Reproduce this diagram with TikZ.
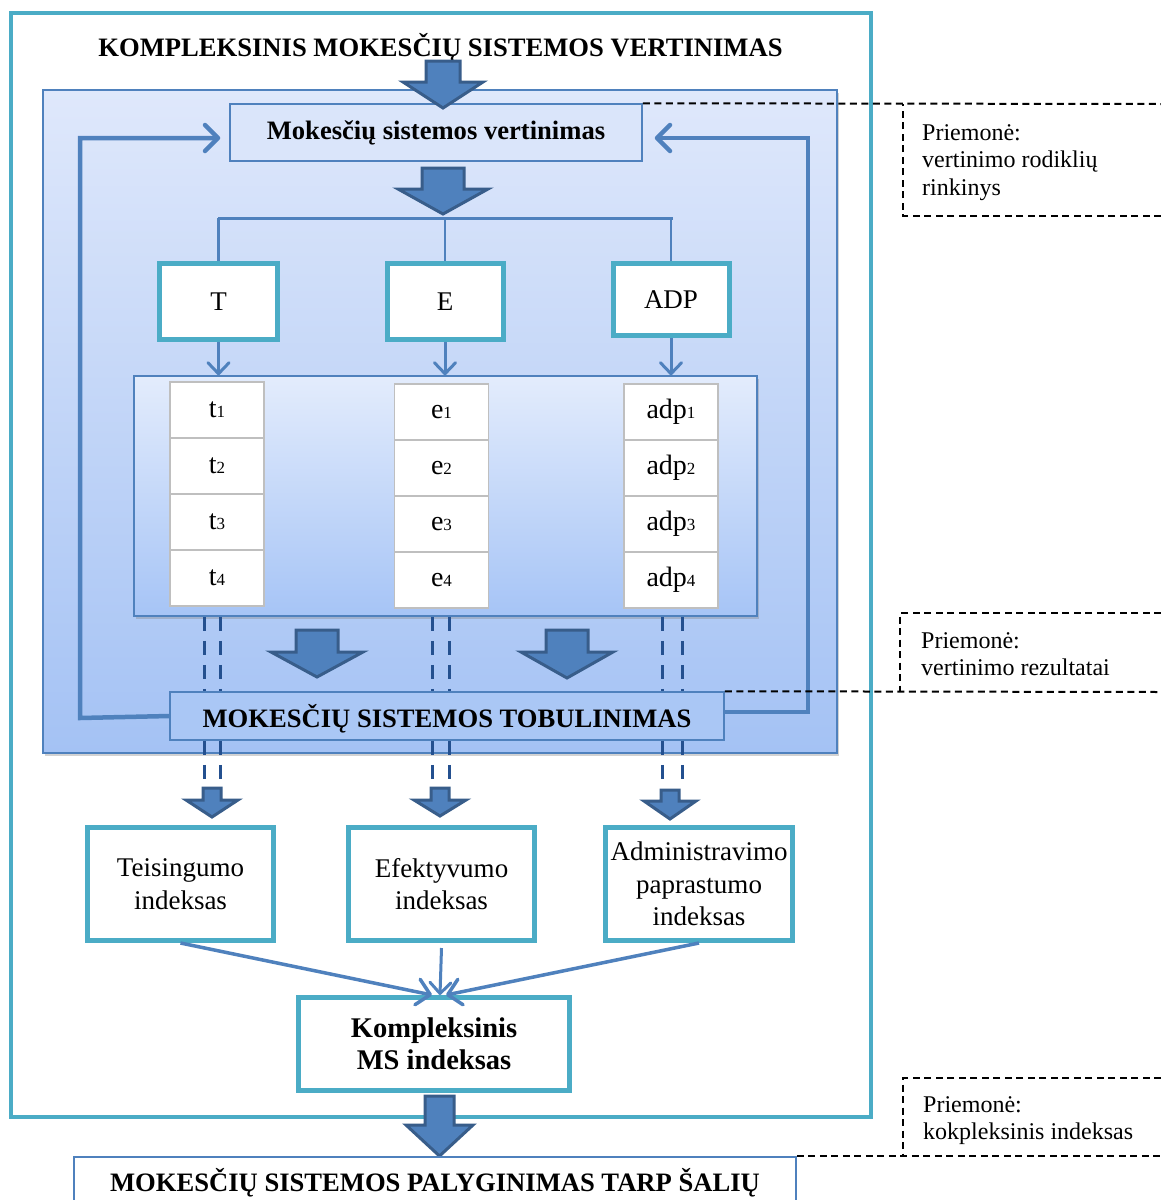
\documentclass[tikz,border=0pt]{standalone}
\usepackage{fontspec}
\setmainfont{Liberation Serif}
\usetikzlibrary{arrows.meta,shadows}
\definecolor{cTeal}{HTML}{4BACC6}
\definecolor{cBlue}{HTML}{4F81BD}
\definecolor{cDark}{HTML}{385D8A}
\definecolor{cDash}{HTML}{24508F}
\definecolor{cGray}{HTML}{BFBFBF}
\definecolor{cTop}{HTML}{DFE8FB}
\definecolor{cBot}{HTML}{A4C2F4}
\definecolor{cPTop}{HTML}{E3ECFC}
\definecolor{cPBot}{HTML}{A6C4F6}
\definecolor{cLight}{HTML}{DAE5FA}
\definecolor{cMst}{HTML}{AAC7F5}
\newcommand\mybold{\fontsize{26.6}{30}\selectfont\bfseries}
\newcommand\letfont{\fontsize{27}{30}\selectfont}
\newcommand\cellfont{\fontsize{28}{30}\selectfont}
\newcommand\idxfont{\fontsize{27}{32.5}\selectfont}
\newcommand\kfont{\fontsize{28.5}{32}\selectfont\bfseries}
\newcommand\calfont{\fontsize{24}{27.5}\selectfont}
\newcommand\smalldig[1]{{\fontsize{17}{17}\selectfont #1}}
\newcommand\blkarrow[6]{\draw[blk] ({#1-#5},#2) -- ({#1+#5},#2) -- ({#1+#5},#3) -- ({#1+#6},#3) -- (#1,#4) -- ({#1-#6},#3) -- ({#1-#5},#3) -- cycle;}
\begin{document}
\begin{tikzpicture}[x=1pt,y=-1pt,
  tealbox/.style={draw=cTeal, line width=5pt, fill=white, inner sep=0pt, align=center},
  cellbox/.style={draw=cGray, line width=1.8pt, fill=white, minimum width=94pt, minimum height=56pt, inner sep=0pt, font=\cellfont},
  blk/.style={fill=cBlue, draw=cDark, line width=3pt, line join=miter},
  thinarr/.style={draw=cBlue, line width=3pt, -{Straight Barb[length=11pt,width=21pt,round]}},
  midarr/.style={draw=cBlue, line width=3.5pt, -{Straight Barb[length=13pt,width=26pt,round]}},
  loopline/.style={draw=cBlue, line width=4.5pt, line join=miter, -{Straight Barb[length=13pt,width=26pt,round]}},
  ddash/.style={draw=cDash, line width=3pt, dash pattern=on 14pt off 10pt},
  callout/.style={draw=black, line width=2pt, dash pattern=on 7pt off 4.5pt},
  calltext/.style={anchor=north west, align=left, inner sep=0pt, font=\calfont},
  plainbox/.style={draw=cBlue, line width=1.5pt, inner sep=0pt},
  shd/.style={drop shadow={shadow xshift=2pt, shadow yshift=-3pt, opacity=.35}}
]
\useasboundingbox (0,0) rectangle (1161,1200);
\clip (0,0) rectangle (1161,1200);
\fill[white] (0,0) rectangle (1161,1200);

% outer frame
\draw[cTeal, line width=4pt] (11,13) rectangle (871,1117);
\node[font=\mybold, anchor=base, inner sep=0pt] (title) at (440.5,56) {KOMPLEKSINIS MOKESČIŲ SISTEMOS VERTINIMAS};

% main shaded box
\node[plainbox, shd, top color=cTop, bottom color=cBot, minimum width=794pt, minimum height=663pt] (mainbox) at (440,421.5) {};

% feedback loops
\node[plainbox, fill=cLight, minimum width=412pt, minimum height=57pt, font=\mybold] (mv) at (436,132.5) {Mokesčių sistemos vertinimas};
\node[plainbox, minimum width=554pt, minimum height=48pt] (mst) at (447,716) {};
\draw[loopline, shorten >=9pt] (mst.west) -- (80,718) -- (80,138) -- ([yshift=-5.5pt]mv.west);
\draw[loopline, shorten >=12pt] ([yshift=4pt]mst.east) -- (808,712) -- (808,138) -- ([yshift=-5.5pt]mv.east);

\blkarrow{443}{61}{82}{108}{17}{40}
\blkarrow{443}{168}{189}{214}{21}{45}

% bar and T / E / ADP
\coordinate (barL) at (218,218);
\coordinate (barR) at (673,218);
\draw[cBlue, line width=3pt] (barL) -- (barR);
\node[tealbox, minimum width=118pt, minimum height=76pt, font=\letfont] (T) at (218.5,301.5) {T};
\node[tealbox, minimum width=116pt, minimum height=76pt, font=\letfont] (E) at (445,301.5) {E};
\node[tealbox, minimum width=116pt, minimum height=72pt, font=\letfont] (ADP) at (671,299.5) {ADP};
\draw[cBlue, line width=2.2pt] (T.north) -- (T.north |- barL);
\draw[cBlue, line width=2.2pt] (E.north) -- (E.north |- barL);
\draw[cBlue, line width=2.2pt] (ADP.north) -- (ADP.north |- barL);

% indicator panel
\node[plainbox, shd, top color=cPTop, bottom color=cPBot, minimum width=623pt, minimum height=240pt] (panel) at (445.5,496) {};
\draw[thinarr] (T.south) -- (T.south |- panel.north);
\draw[thinarr] (E.south) -- (E.south |- panel.north);
\draw[thinarr] (ADP.south) -- (ADP.south |- panel.north);
\foreach \i in {1,2,3,4}{
  \node[cellbox] (t\i) at (217,{410+56*(\i-1)}) {t\smalldig{\i}};
  \node[cellbox] (e\i) at (441.5,{412+56*(\i-1)}) {e\smalldig{\i}};
  \node[cellbox] (adp\i) at (671,{412+56*(\i-1)}) {adp\smalldig{\i}};
}

% dashed double lines
\foreach \xx in {204,220,432,449,662,682}{
  \draw[ddash] (\xx,0 |- panel.south) -- (\xx,0 |- mst.north);
  \draw[ddash] (\xx,0 |- mst.south) -- (\xx,788);
}
\blkarrow{317}{630}{652}{677}{21}{46}
\blkarrow{567}{630}{652}{678}{21}{46}

\node[plainbox, fill=cMst, minimum width=554pt, minimum height=48pt, text height=24pt, text depth=2pt, font=\mybold] at (447,716) {MOKESČIŲ SISTEMOS TOBULINIMAS};

\blkarrow{212}{788}{800}{817}{9}{26}
\blkarrow{440}{788}{800}{816}{9}{26}
\blkarrow{670}{790}{801}{819}{9}{26}

% index boxes
\node[tealbox, minimum width=186pt, minimum height=113pt, font=\idxfont] (teis) at (180.5,884) {Teisingumo\\indeksas};
\node[tealbox, minimum width=186pt, minimum height=113pt, font=\idxfont] (efek) at (441.5,884) {Efektyvumo\\indeksas};
\node[tealbox, minimum width=187pt, minimum height=113pt, font=\idxfont] (adm) at (699,884) {Administravimo\\paprastumo\\indeksas};
\node[tealbox, minimum width=271pt, minimum height=93pt, font=\kfont] (komp) at (434,1044) {Kompleksinis\\MS indeksas};
\draw[midarr] (teis.south) -- ([xshift=-2pt]komp.north);
\draw[thinarr] ([yshift=-5pt]efek.south) -- ([xshift=6pt]komp.north);
\draw[midarr] (adm.south) -- ([xshift=12pt]komp.north);

\blkarrow{439.5}{1096}{1125}{1156}{14.5}{33.5}
\node[plainbox, fill=white, anchor=north, minimum width=722pt, text height=23pt, text depth=6pt, inner ysep=12pt, font=\mybold] (cmp) at (435,1156) {MOKESČIŲ SISTEMOS PALYGINIMAS TARP ŠALIŲ};

% callouts
\draw[callout] (mv.north east) -- (1161,104);
\draw[callout] (1161,216) -- (903,216) -- (903,104);
\node[calltext] (c1) at (922,124) {Priemonė:\\vertinimo rodiklių\\rinkinys};
\draw[callout] (1161,613) -- (900,613) -- (900,692);
\draw[callout] (mst.north east) -- (1161,692);
\node[calltext] (c2) at (921,632) {Priemonė:\\vertinimo rezultatai};
\draw[callout] (1161,1078) -- (903,1078) -- (903,1156);
\draw[callout] (cmp.north east) -- (1161,1156);
\node[calltext] (c3) at (923,1096) {Priemonė:\\kokpleksinis indeksas};
\end{tikzpicture}
\end{document}
